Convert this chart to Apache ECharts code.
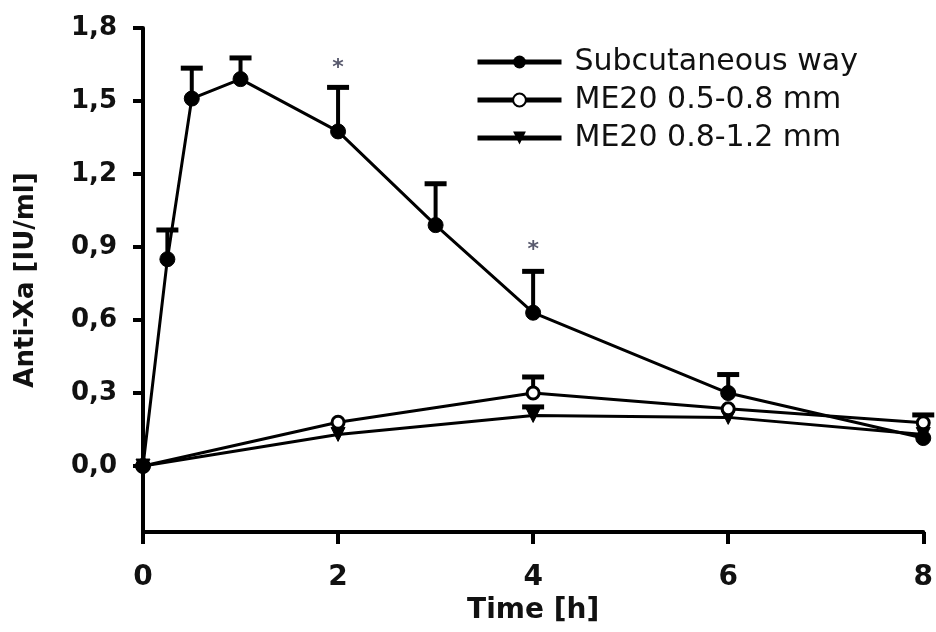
<!DOCTYPE html>
<html><head><meta charset="utf-8">
<script src="https://cdn.jsdelivr.net/npm/echarts@6/dist/echarts.min.js"></script>
<style>html,body{margin:0;padding:0;background:#fff}#c{width:936px;height:632px}</style>
</head><body><div id="c"></div>
<script>
const times = [0, 0.25, 0.5, 1, 2, 3, 4, 6, 8];
const subcutaneous = [0, 0.85, 1.51, 1.59, 1.375, 0.99, 0.63, 0.30, 0.115];
const subcutaneousErrTop = [null, 0.97, 1.635, 1.677, 1.556, 1.16, 0.80, 0.376, null];
const me2005Times = [0, 2, 4, 6, 8];
const me2005 = [0, 0.18, 0.30, 0.235, 0.178];
const me2005ErrTop = [null, null, 0.366, null, 0.21];
const me2008Times = [0, 2, 4, 6, 8];
const me2008 = [0, 0.13, 0.208, 0.2, 0.13];
const me2008ErrTop = [null, null, 0.243, null, null];
const yTicks = [0, 0.3, 0.6, 0.9, 1.2, 1.5, 1.8];
const xTicks = [0, 2, 4, 6, 8];
const asterisks = [[2, 1.635], [4, 0.885]];
const seriesNames = ['Subcutaneous way', 'ME20 0.5-0.8 mm', 'ME20 0.8-1.2 mm'];

function pairs(xs, ys){ return xs.map((x,i)=>[x, ys[i]]); }
function errData(xs, ys, tops){
  const out=[]; xs.forEach((x,i)=>{ if(tops[i]!=null) out.push([x, ys[i], tops[i]]); }); return out;
}
const errAll = errData(times, subcutaneous, subcutaneousErrTop)
  .concat(errData(me2005Times, me2005, me2005ErrTop))
  .concat(errData(me2008Times, me2008, me2008ErrTop));

const chart = echarts.init(document.getElementById('c'), null, {renderer:'canvas'});
const lineStyle = {color:'#000', width:3};
chart.setOption({
  animation:false,
  backgroundColor:'#fff',
  textStyle:{fontFamily:'DejaVu Sans'},
  grid:{left:143, right:8, top:28, bottom:100, containLabel:false},
  legend:{
    left:470, top:42, orient:'vertical', itemWidth:84, itemHeight:16, itemGap:8,
    lineStyle:{width:5, color:'#000'},
    textStyle:{fontFamily:'DejaVu Sans', fontSize:30, color:'#111', padding:[0,0,0,8]},
    data:seriesNames
  },
  xAxis:{
    type:'value', min:0, max:8, interval:2,
    name:'Time [h]', nameLocation:'middle', nameGap:64,
    nameTextStyle:{fontFamily:'DejaVu Sans', fontWeight:'bold', fontSize:28, color:'#111'},
    axisLine:{onZero:false, lineStyle:{color:'#000', width:4}},
    axisTick:{show:true, length:12, lineStyle:{color:'#000', width:4}},
    axisLabel:{fontFamily:'DejaVu Sans', fontWeight:'bold', fontSize:28, color:'#111', margin:32,
      formatter:v=>xTicks.includes(v)?String(v):''},
    splitLine:{show:false}
  },
  yAxis:{
    type:'value', min:-0.271, max:1.8,
    name:'Anti-Xa [IU/ml]', nameLocation:'middle', nameGap:104, nameRotate:90,
    nameTextStyle:{fontFamily:'DejaVu Sans', fontWeight:'bold', fontSize:26, color:'#111'},
    axisLine:{show:true, onZero:false, lineStyle:{color:'#000', width:4}},
    axisTick:{show:true, length:10, lineStyle:{color:'#000', width:4}, customValues:yTicks},
    axisLabel:{fontFamily:'DejaVu Sans', fontWeight:'bold', fontSize:26, color:'#111', margin:26,
      customValues:yTicks, formatter:v=>v.toFixed(1).replace('.',',')},
    splitLine:{show:false}
  },
  series:[
    {
      type:'custom', name:'err', silent:true, z:1,
      data:errAll,
      renderItem:function(params, api){
        const p0 = api.coord([api.value(0), api.value(1)]);
        const p1 = api.coord([api.value(0), api.value(2)]);
        return {type:'group', children:[
          {type:'line', shape:{x1:p0[0], y1:p0[1], x2:p1[0], y2:p1[1]}, style:{stroke:'#000', lineWidth:4}},
          {type:'line', shape:{x1:p1[0]-11, y1:p1[1], x2:p1[0]+11, y2:p1[1]}, style:{stroke:'#000', lineWidth:5}}
        ]};
      }
    },
    {
      type:'line', name:seriesNames[2], data:pairs(me2008Times, me2008), z:3,
      symbol:'triangle', symbolRotate:180, symbolSize:14,
      lineStyle:lineStyle, itemStyle:{color:'#000', borderColor:'#000'}
    },
    {
      type:'line', name:seriesNames[1], data:pairs(me2005Times, me2005), z:4,
      symbol:'circle', symbolSize:12,
      lineStyle:lineStyle, itemStyle:{color:'#fff', borderColor:'#000', borderWidth:3}
    },
    {
      type:'line', name:seriesNames[0], data:pairs(times, subcutaneous), z:5,
      symbol:'circle', symbolSize:15,
      lineStyle:lineStyle, itemStyle:{color:'#000', borderColor:'#000'}
    },
    {
      type:'scatter', name:'sig', data:asterisks, symbolSize:0, silent:true,
      label:{show:true, position:'inside', formatter:'*', fontSize:22, fontWeight:'bold', color:'#2e3048', fontFamily:'DejaVu Sans'}
    }
  ]
});
</script></body></html>
